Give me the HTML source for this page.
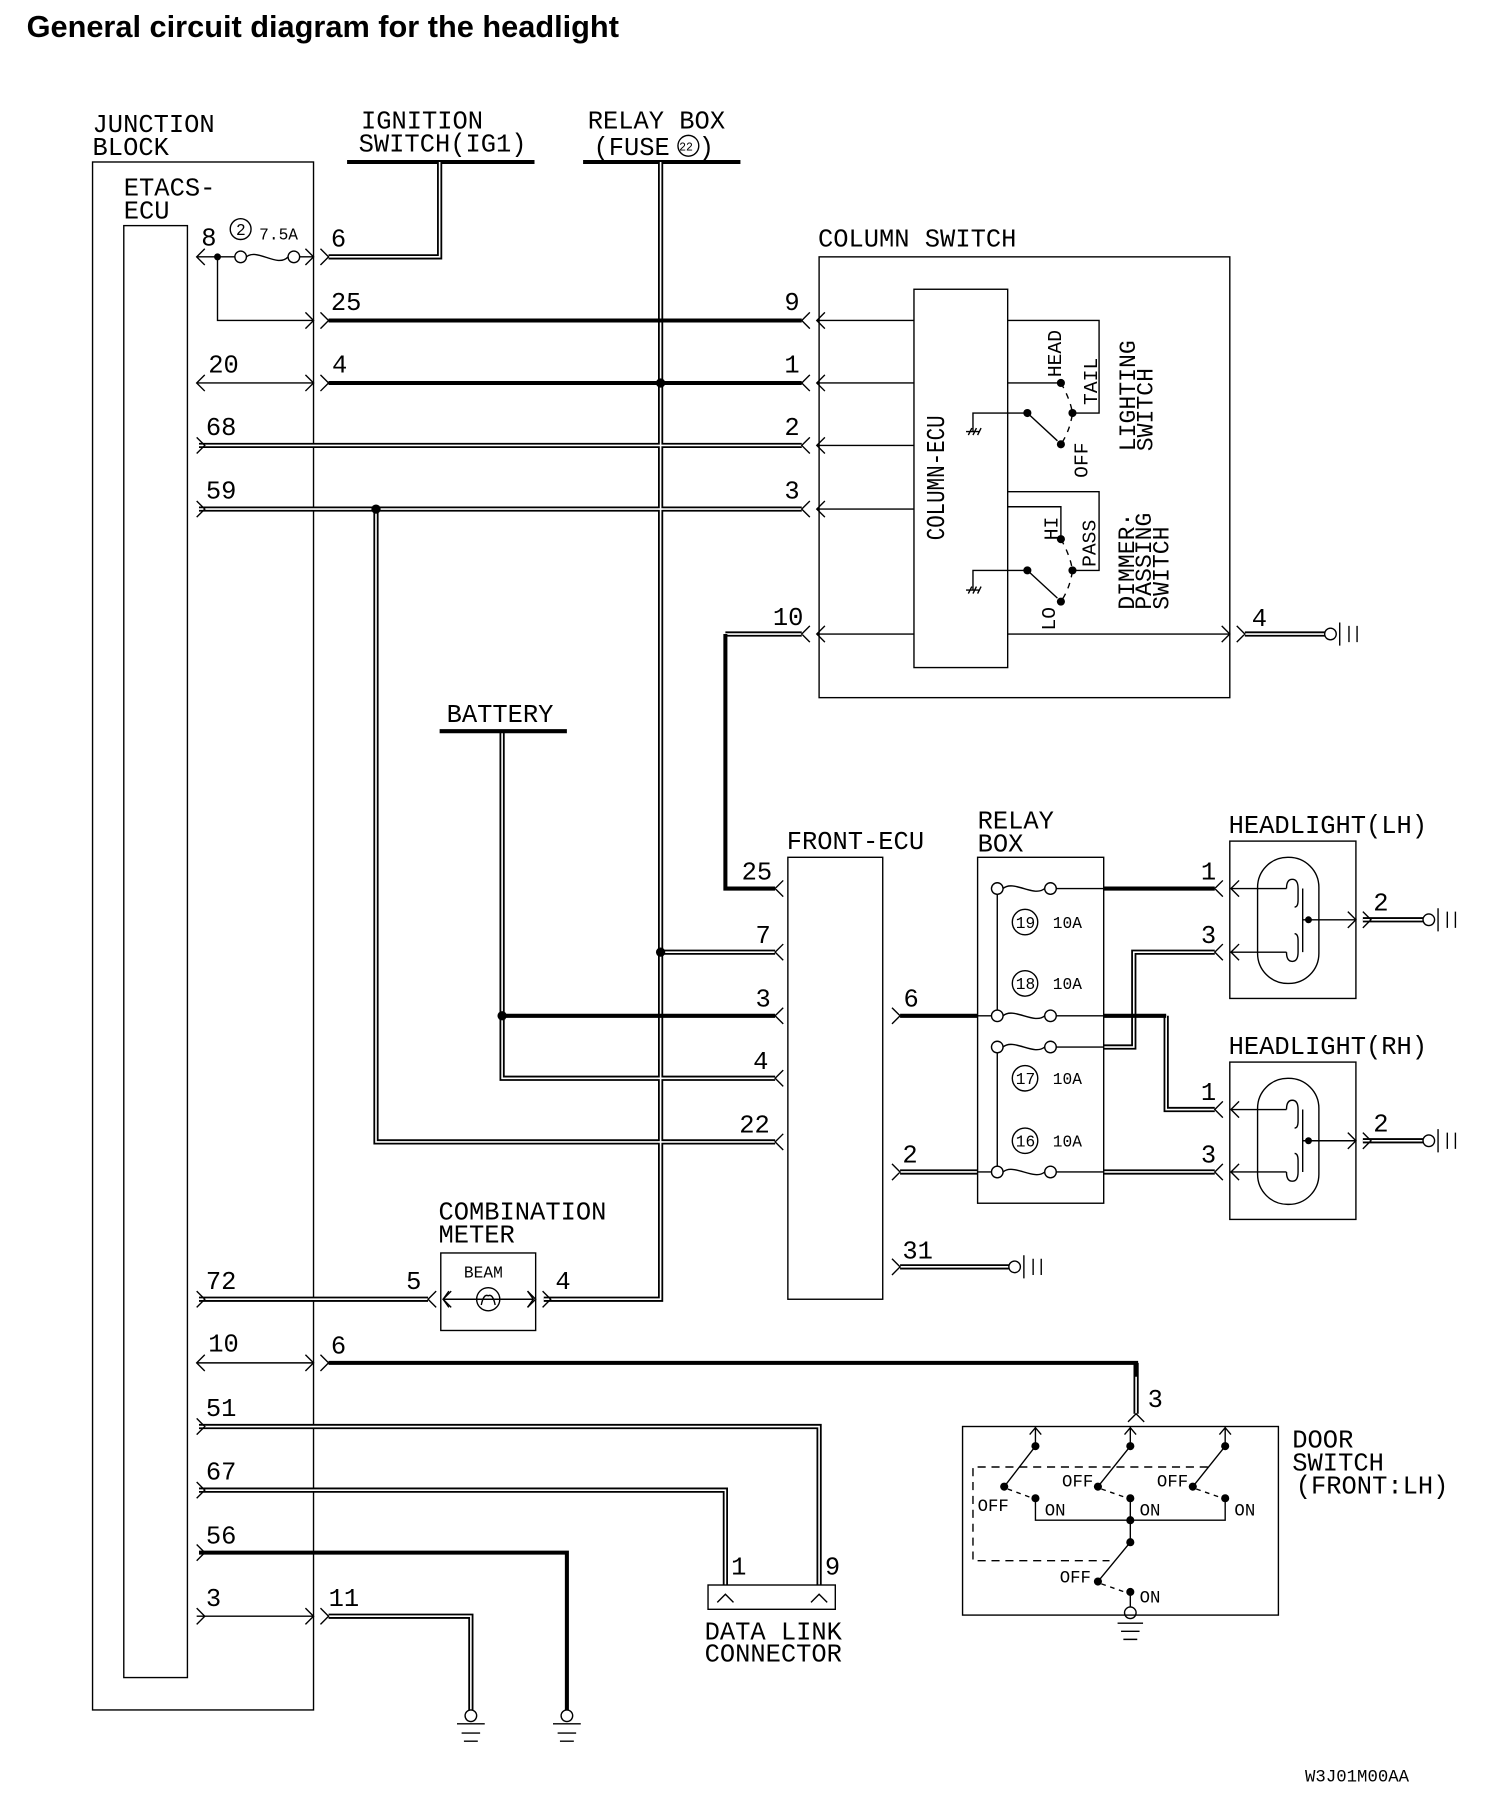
<!DOCTYPE html>
<html><head><meta charset="utf-8"><style>
html,body{margin:0;padding:0;background:#fff}
svg{display:block}
text{font-family:"Liberation Mono",monospace;font-size:22px;fill:#000}
.s{font-size:14px}
.t{font-family:"Liberation Sans",sans-serif;font-weight:bold;font-size:26px}
.n{fill:none;stroke:#000;stroke-width:1.2}
.k{fill:none;stroke:#000;stroke-width:3.5}
.d{fill:none;stroke:#000;stroke-width:4.5}
.w{fill:none;stroke:#fff;stroke-width:1.4}
.ds{fill:none;stroke:#000;stroke-width:1.2;stroke-dasharray:7 5}
</style></head><body>
<svg width="1504" height="1806" viewBox="0 0 1300 1561" xmlns="http://www.w3.org/2000/svg">
<text class="t" x="23" y="32" textLength="512" lengthAdjust="spacingAndGlyphs">General circuit diagram for the headlight</text>

<text x="80" y="114">JUNCTION</text><text x="80" y="134">BLOCK</text>
<text x="312" y="111">IGNITION</text><text x="310" y="131">SWITCH(IG1)</text>
<text x="508" y="111">RELAY BOX</text><text x="513" y="134">(FUSE</text><text x="604" y="134">)</text>
<circle class="n" cx="595" cy="126" r="9"/><text x="587" y="130" style="font-size:10px">22</text>
<path class="k" d="M300 140H462M504 140H640"/>

<rect class="n" x="80" y="140" width="191" height="1338"/>
<text x="107" y="169">ETACS-</text><text x="107" y="189">ECU</text>
<rect class="n" x="107" y="195" width="55" height="1255"/>

<g>
<path class="d" d="M380 140V222H284"/>
<path class="d" d="M571 140V1123H470"/>
<path class="d" d="M172 385H693M172 440H693M325 440V987H670M627 548H693"/>
<path class="d" d="M434 632V932H670M571 823H670"/>
<path class="d" d="M172 1123H370M982 1178V1222M172 1233H708V1370M172 1288H627V1370M284 1397H407V1478"/>
<path class="d" d="M1076 548H1145M778 1013H845M778 1095H872M954 1013H1050M954 905H980V823H1050M1008 878V959H1050M1178 795H1230M1178 986H1230"/>
</g>
<g>
<path class="w" d="M380 140V222H284"/>
<path class="w" d="M571 140V1123H470"/>
<path class="w" d="M172 385H693M172 440H693M325 440V987H670M627 548H693"/>
<path class="w" d="M434 632V932H670M571 823H670"/>
<path class="w" d="M172 1123H370M982 1178V1222M172 1233H708V1370M172 1288H627V1370M284 1397H407V1478"/>
<path class="w" d="M1076 548H1145M778 1013H845M778 1095H872M954 1013H1050M954 905H980V823H1050M1008 878V959H1050M1178 795H1230M1178 986H1230"/>
</g>
<path class="k" d="M284 277H693M284 331H693M627 548V768H670M434 878H670M778 878H845M954 768H1050M954 878H1008M284 1178H982V1190M172 1342H490V1478"/>

<g fill="#000">
<circle cx="571" cy="331" r="4"/><circle cx="325" cy="440" r="4"/><circle cx="571" cy="823" r="4"/><circle cx="434" cy="878" r="4"/><circle cx="188" cy="222" r="3"/>
</g>

<path class="n" d="M170 222H203M213 222C222 214 240 232 249 222M259 222H271M188 222V277H271M170 331H271M170 1178H271M170 1397H271"/>
<circle class="n" cx="208" cy="222" r="5"/><circle class="n" cx="254" cy="222" r="5"/>
<circle class="n" cx="208" cy="198" r="9"/><text class="s" x="204" y="203">2</text>
<text class="s" x="224" y="207">7.5A</text>
<text x="174" y="212">8</text><text x="286" y="213">6</text>
<text x="286" y="268">25</text><text x="180" y="322">20</text><text x="287" y="322">4</text>
<text x="178" y="376">68</text><text x="178" y="431">59</text>

<path class="n" d="M264 215L271 222L264 229M277 215L284 222L277 229
M264 270L271 277L264 284M277 270L284 277L277 284
M264 324L271 331L264 338M277 324L284 331L277 338
M177 324L170 331L177 338 M177 215L170 222L177 229
M170 378L177 385L170 392M170 433L177 440L170 447
M700 270L693 277L700 284M713 270L706 277L713 284
M700 324L693 331L700 338M713 324L706 331L713 338
M700 378L693 385L700 392M713 378L706 385L713 392
M700 433L693 440L700 447M713 433L706 440L713 447
M700 541L693 548L700 555M713 541L706 548L713 555
M1056 541L1063 548L1056 555M1069 541L1076 548L1069 555
M677 761L670 768L677 775M677 816L670 823L677 830M677 871L670 878L677 885M677 925L670 932L677 939M677 980L670 987L677 994
M771 871L778 878L771 885M771 1006L778 1013L771 1020M771 1088L778 1095L771 1102
M1057 761L1050 768L1057 775M1071 761L1064 768L1071 775
M1057 816L1050 823L1057 830M1071 816L1064 823L1071 830
M1057 952L1050 959L1057 966M1071 952L1064 959L1071 966
M1057 1006L1050 1013L1057 1020M1071 1006L1064 1013L1071 1020
M1165 788L1172 795L1165 802M1178 788L1185 795L1178 802
M1165 979L1172 986L1165 993M1178 979L1185 986L1178 993
M170 1116L177 1123L170 1130M377 1116L370 1123L377 1130M390 1116L383 1123L390 1130
M456 1116L463 1123L456 1130M469 1116L476 1123L469 1130
M177 1171L170 1178L177 1185M264 1171L271 1178L264 1185M277 1171L284 1178L277 1185
M170 1226L177 1233L170 1240M170 1281L177 1288L170 1295M170 1335L177 1342L170 1349
M170 1390L177 1397L170 1404M264 1390L271 1397L264 1404M277 1390L284 1397L277 1404
M975 1229L982 1222L989 1229
M620 1385L627 1378L634 1385M701 1385L708 1378L715 1385"/>

<text x="707" y="213">COLUMN SWITCH</text>
<rect class="n" x="708" y="222" width="355" height="381"/>
<rect class="n" x="790" y="250" width="81" height="327"/>
<text transform="translate(816 467) rotate(-90)" textLength="108" lengthAdjust="spacingAndGlyphs">COLUMN-ECU</text>
<path class="n" d="M706 277H790M706 331H790M706 385H790M706 440H790M706 548H790M871 548H1063"/>
<text x="678" y="268">9</text><text x="678" y="322">1</text><text x="678" y="376">2</text><text x="678" y="431">3</text><text x="668" y="540">10</text><text x="1082" y="541">4</text>
<path class="n" d="M871 277H950V357H927M871 331H917M888 357H841V373M835 373H847M837 376L840 370M841 376L844 370M845 376L848 370"/>
<path class="n" d="M888 357L914 381"/>
<path class="ds" d="M917 331Q925 345 927 357Q925 372 917 384" style="stroke-dasharray:5 5"/>
<g fill="#000"><circle cx="917" cy="331" r="3.5"/><circle cx="927" cy="357" r="3.5"/><circle cx="888" cy="357" r="3.5"/><circle cx="917" cy="384" r="3.5"/>
<circle cx="917" cy="466" r="3.5"/><circle cx="927" cy="493" r="3.5"/><circle cx="888" cy="493" r="3.5"/><circle cx="917" cy="520" r="3.5"/></g>
<text transform="translate(917 326) rotate(-90)" class="s" style="font-size:17px">HEAD</text>
<text transform="translate(948 350) rotate(-90)" class="s" style="font-size:17px">TAIL</text>
<text transform="translate(940 413) rotate(-90)" class="s" style="font-size:17px">OFF</text>
<text transform="translate(981 390) rotate(-90)" style="font-size:20px">LIGHTING</text>
<text transform="translate(996 390) rotate(-90)" style="font-size:20px">SWITCH</text>
<path class="n" d="M871 425H950V493H927M871 438H917V466M888 493H841V510M835 510H847M837 513L840 507M841 513L844 507M845 513L848 507"/>
<path class="n" d="M888 493L914 517"/>
<path class="ds" d="M917 466Q925 480 927 493Q925 508 917 520" style="stroke-dasharray:5 5"/>
<text transform="translate(914 467) rotate(-90)" class="s" style="font-size:17px">HI</text>
<text transform="translate(947 490) rotate(-90)" class="s" style="font-size:17px">PASS</text>
<text transform="translate(912 545) rotate(-90)" class="s" style="font-size:17px">LO</text>
<text transform="translate(980 527) rotate(-90)" style="font-size:20px">DIMMER·</text>
<text transform="translate(995 527) rotate(-90)" style="font-size:20px">PASSING</text>
<text transform="translate(1010 527) rotate(-90)" style="font-size:20px">SWITCH</text>
<circle class="n" cx="1150" cy="548" r="5"/><path class="n" d="M1158 538V558M1166 541V555M1173 541V555"/>

<text x="386" y="624">BATTERY</text>
<path class="k" d="M380 632H490"/>

<text x="680" y="734">FRONT-ECU</text>
<rect class="n" x="681" y="741" width="82" height="382"/>
<text x="641" y="760">25</text><text x="653" y="815">7</text><text x="653" y="870">3</text><text x="651" y="924">4</text><text x="639" y="979">22</text>
<text x="781" y="870">6</text><text x="780" y="1005">2</text><text x="780" y="1088">31</text>
<circle class="n" cx="877" cy="1095" r="5"/><path class="n" d="M885 1085V1105M893 1088V1102M900 1088V1102"/>

<text x="845" y="716">RELAY</text><text x="845" y="736">BOX</text>
<rect class="n" x="845" y="741" width="109" height="299"/>
<g>
<path class="n" d="M845 878H857M913 768H954M913 878H954M913 905H954M845 1013H857M913 1013H954M862 773V873M862 910V1008"/>
<circle class="n" cx="862" cy="768" r="5"/><circle class="n" cx="908" cy="768" r="5"/><path class="n" d="M867 768C876 760 894 776 903 768"/>
<circle class="n" cx="862" cy="878" r="5"/><circle class="n" cx="908" cy="878" r="5"/><path class="n" d="M867 878C876 870 894 886 903 878"/>
<circle class="n" cx="862" cy="905" r="5"/><circle class="n" cx="908" cy="905" r="5"/><path class="n" d="M867 905C876 897 894 913 903 905"/>
<circle class="n" cx="862" cy="1013" r="5"/><circle class="n" cx="908" cy="1013" r="5"/><path class="n" d="M867 1013C876 1005 894 1021 903 1013"/>
</g>
<circle class="n" cx="886" cy="797" r="11"/><text class="s" x="878" y="802">19</text><text class="s" x="910" y="802">10A</text>
<circle class="n" cx="886" cy="850" r="11"/><text class="s" x="878" y="855">18</text><text class="s" x="910" y="855">10A</text>
<circle class="n" cx="886" cy="932" r="11"/><text class="s" x="878" y="937">17</text><text class="s" x="910" y="937">10A</text>
<circle class="n" cx="886" cy="986" r="11"/><text class="s" x="878" y="991">16</text><text class="s" x="910" y="991">10A</text>

<text x="1062" y="720">HEADLIGHT(LH)</text>
<rect class="n" x="1063" y="727" width="109" height="136"/>
<rect class="n" x="1087" y="741" width="53" height="109" rx="26"/>
<path class="n" d="M1064 768H1112M1064 823H1112M1126 768V823M1126 795H1172"/>
<path class="n" d="M1112 768q0 -8 5 -8t5 8v10q0 6 -3 6M1112 823q0 8 5 8t5 -8v-10q0 -6 -3 -6"/>
<circle cx="1131" cy="795" r="3"/>
<text x="1038" y="760">1</text><text x="1038" y="815">3</text><text x="1187" y="787">2</text>
<circle class="n" cx="1235" cy="795" r="5"/><path class="n" d="M1243 785V805M1251 788V802M1258 788V802"/>

<text x="1062" y="911">HEADLIGHT(RH)</text>
<rect class="n" x="1063" y="918" width="109" height="136"/>
<rect class="n" x="1087" y="932" width="53" height="109" rx="26"/>
<path class="n" d="M1064 959H1112M1064 1013H1112M1126 959V1013M1126 986H1172"/>
<path class="n" d="M1112 959q0 -8 5 -8t5 8v10q0 6 -3 6M1112 1013q0 8 5 8t5 -8v-10q0 -6 -3 -6"/>
<circle cx="1131" cy="986" r="3"/>
<text x="1038" y="951">1</text><text x="1038" y="1005">3</text><text x="1187" y="978">2</text>
<circle class="n" cx="1235" cy="986" r="5"/><path class="n" d="M1243 976V996M1251 979V993M1258 979V993"/>

<text x="379" y="1054">COMBINATION</text><text x="379" y="1074">METER</text>
<rect class="n" x="381" y="1083" width="82" height="67"/>
<text class="s" x="401" y="1104">BEAM</text>
<circle class="n" cx="422" cy="1123" r="10"/>
<path class="n" d="M383 1123H461M416 1128q2 -10 6 -8q4 -2 6 8M388 1116L383 1123L388 1130M456 1116L461 1123L456 1130"/>
<text x="178" y="1114">72</text><text x="351" y="1114">5</text><text x="480" y="1114">4</text>

<text x="180" y="1168">10</text><text x="286" y="1170">6</text><text x="992" y="1216">3</text>
<text x="178" y="1224">51</text><text x="178" y="1279">67</text><text x="178" y="1334">56</text>
<text x="178" y="1388">3</text><text x="284" y="1388">11</text>

<circle class="n" cx="407" cy="1483" r="5"/><path class="n" d="M395 1490H419M399 1498H415M401 1505H413"/>
<circle class="n" cx="490" cy="1483" r="5"/><path class="n" d="M478 1490H502M482 1498H498M484 1505H496"/>

<rect class="n" x="612" y="1370" width="110" height="21"/>
<text x="632" y="1361">1</text><text x="713" y="1361">9</text>
<text x="609" y="1417">DATA LINK</text><text x="609" y="1436">CONNECTOR</text>

<rect class="n" x="832" y="1233" width="273" height="163"/>
<text x="1117" y="1251">DOOR</text><text x="1117" y="1271">SWITCH</text><text x="1120" y="1291">(FRONT:LH)</text>
<path class="n" d="M895 1233V1250M977 1233V1250M1059 1233V1250M890 1240L895 1234L900 1240M972 1240L977 1234L982 1240M1054 1240L1059 1234L1064 1240
M895 1250L868 1285M977 1250L949 1285M1059 1250L1031 1285
M895 1295V1314H1059V1295M977 1295V1333M977 1333L949 1367M977 1376V1389"/>
<path class="ds" d="M871 1287L890 1294M952 1369L972 1376M952 1287L972 1294M1034 1287L1054 1294" style="stroke-dasharray:4 4"/>
<path class="ds" d="M1044 1268H841V1349H959"/>
<g fill="#000">
<circle cx="895" cy="1250" r="3.5"/><circle cx="977" cy="1250" r="3.5"/><circle cx="1059" cy="1250" r="3.5"/>
<circle cx="868" cy="1285" r="3.5"/><circle cx="949" cy="1285" r="3.5"/><circle cx="1031" cy="1285" r="3.5"/>
<circle cx="895" cy="1295" r="3.5"/><circle cx="977" cy="1295" r="3.5"/><circle cx="1059" cy="1295" r="3.5"/>
<circle cx="977" cy="1314" r="3.5"/><circle cx="977" cy="1333" r="3.5"/><circle cx="949" cy="1367" r="3.5"/><circle cx="977" cy="1376" r="3.5"/>
</g>
<circle class="n" cx="977" cy="1394" r="5"/><path class="n" d="M966 1403H988M969 1410H985M971 1417H983"/>
<text class="s" style="font-size:15px" x="845" y="1306">OFF</text>
<text class="s" style="font-size:15px" x="903" y="1310">ON</text>
<text class="s" style="font-size:15px" x="918" y="1285">OFF</text>
<text class="s" style="font-size:15px" x="985" y="1310">ON</text>
<text class="s" style="font-size:15px" x="1000" y="1285">OFF</text>
<text class="s" style="font-size:15px" x="1067" y="1310">ON</text>
<text class="s" style="font-size:15px" x="916" y="1368">OFF</text>
<text class="s" style="font-size:15px" x="985" y="1385">ON</text>

<text class="s" x="1128" y="1540" style="font-size:15px">W3J01M00AA</text>
</svg>
</body></html>
